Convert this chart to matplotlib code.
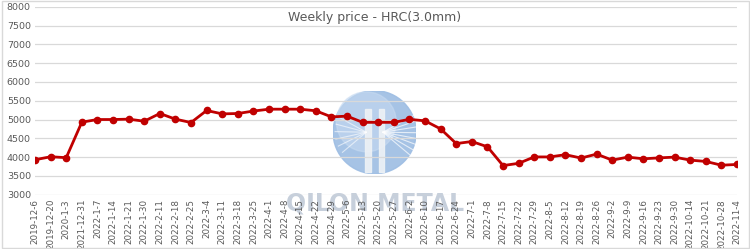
import numpy as np
import matplotlib.pyplot as plt
from matplotlib.patches import Circle, Rectangle

# fechas (etiquetas del eje x)
fechas = ["2019-12-6", "2019-12-20", "2020-1-3", "2021-12-31", "2022-1-7", "2022-1-14",
          "2022-1-21", "2022-1-30", "2022-2-11", "2022-2-18", "2022-2-25", "2022-3-4",
          "2022-3-11", "2022-3-18", "2022-3-25", "2022-4-1", "2022-4-8", "2022-4-15",
          "2022-4-22", "2022-4-29", "2022-5-6", "2022-5-13", "2022-5-20", "2022-5-27",
          "2022-6-2", "2022-6-10", "2022-6-17", "2022-6-24", "2022-7-1", "2022-7-8",
          "2022-7-15", "2022-7-22", "2022-7-29", "2022-8-5", "2022-8-12", "2022-8-19",
          "2022-8-26", "2022-9-2", "2022-9-9", "2022-9-16", "2022-9-23", "2022-9-30",
          "2022-10-14", "2022-10-21", "2022-10-28", "2022-11-4"]

# precios semanales
precios = [3930, 4010, 3985, 4930, 5000, 5000, 5010, 4955, 5160, 5010, 4920, 5240,
           5150, 5160, 5225, 5275, 5275, 5275, 5232, 5070, 5090, 4925, 4925, 4925,
           5005, 4965, 4750, 4360, 4415, 4275, 3775, 3835, 4005, 4005, 4065, 3975,
           4080, 3920, 4000, 3955, 3980, 4000, 3920, 3885, 3785, 3805]

yticks = np.arange(3000, 8001, 500)

fig = plt.figure(figsize=(7.5, 2.49), dpi=100)
ax = fig.add_axes([0.0467, 0.218, 0.936, 0.755])

x = np.arange(len(fechas))

# marca de agua (logo)
logo = fig.add_axes([0.444, 0.302, 0.111, 0.334])
logo.set_xlim(-1, 1)
logo.set_ylim(-1, 1)
logo.set_aspect("equal")
logo.axis("off")
logo.add_patch(Circle((0, 0), 1, color="#9dbde3", alpha=0.9))
logo.add_patch(Circle((-0.2, 0.25), 0.72, color="#c6daf1", alpha=0.6))
logo.add_patch(Rectangle((-0.22, -0.95), 0.13, 1.5, color="#eef2f6", alpha=0.9))
logo.add_patch(Rectangle((0.1, -0.95), 0.13, 1.5, color="#eef2f6", alpha=0.9))
for ang in np.linspace(-0.7, 0.5, 8):
    logo.plot([0.2, 0.2 + 0.85 * np.cos(ang)], [0.0, 0.85 * np.sin(ang)],
              color="white", lw=0.8, alpha=0.7)
for ang in np.linspace(np.pi - 0.5, np.pi + 0.7, 6):
    logo.plot([-0.2, -0.2 + 0.75 * np.cos(ang)], [0.0, 0.75 * np.sin(ang)],
              color="white", lw=0.8, alpha=0.6)
logo.set_zorder(0.5)
fig.text(0.5, 0.183, "QILON METAL", ha="center", va="center", fontsize=17,
         color="#b3bfcf", alpha=0.75, fontweight="bold", zorder=0)

ax.set_zorder(1)
ax.patch.set_alpha(0)
ax.plot(x, precios, color="#c00000", lw=2, marker="o", markersize=4.5)

ax.set_xlim(0, len(fechas) - 1)
ax.set_ylim(3000, 8000)
ax.set_yticks(yticks)
ax.set_xticks(x)
ax.set_xticklabels(fechas, rotation=90, fontsize=6.3, color="#595959")
ax.tick_params(axis="y", labelsize=6.8, labelcolor="#595959", length=0, pad=3)
ax.tick_params(axis="x", length=0, pad=3)
ax.grid(axis="y", color="#d9d9d9", lw=0.9)
for s in ax.spines.values():
    s.set_visible(False)

fig.text(0.5, 0.93, "Weekly price - HRC(3.0mm)", ha="center", va="center",
         fontsize=9, color="#595959")

# borde del grafico
fig.patches.append(Rectangle((0.002, 0.004), 0.996, 0.992, transform=fig.transFigure,
                             fill=False, edgecolor="#d9d9d9", lw=1))

plt.savefig("out.png", dpi=100)
